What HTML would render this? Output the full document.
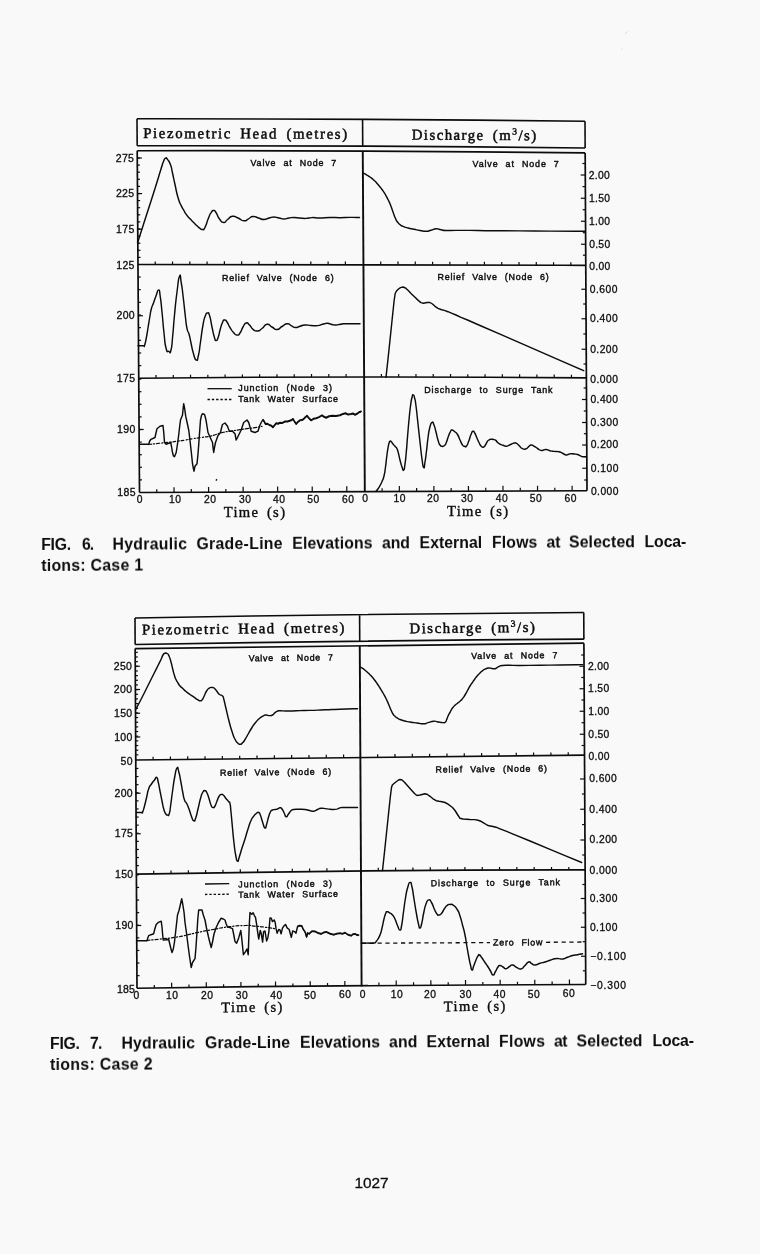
<!DOCTYPE html>
<html lang="en"><head><meta charset="utf-8"><title>Hydraulic Grade-Line Elevations - page 1027</title>
<style>
html,body{margin:0;padding:0;background:#f9f9f9;}
body{width:760px;height:1254px;overflow:hidden;position:relative;}
svg{position:absolute;left:0;top:0;display:block;opacity:0.999;will-change:transform;}
svg path{fill:none;stroke:#0c0c0c;}
svg text{fill:#0c0c0c;white-space:pre;}
.sa{font-family:"Liberation Sans","DejaVu Sans",sans-serif;stroke:#0c0c0c;stroke-width:0.3px;}
.st{font-family:"Liberation Sans","DejaVu Sans",sans-serif;stroke:#0c0c0c;stroke-width:0.42px;word-spacing:3.8px;}
.se{font-family:"Liberation Serif","DejaVu Serif",serif;stroke:#0c0c0c;stroke-width:0.5px;word-spacing:3px;}
.sx{font-family:"Liberation Serif","DejaVu Serif",serif;stroke:#0c0c0c;stroke-width:0.38px;word-spacing:2.5px;}
.cap{font-family:"Liberation Sans","DejaVu Sans",sans-serif;font-weight:bold;}
.pg{font-family:"Liberation Sans","DejaVu Sans",sans-serif;stroke:#0c0c0c;stroke-width:0.3px;}
</style></head><body>
<svg width="760" height="1254" viewBox="0 0 760 1254">
<rect x="0" y="0" width="760" height="1254" fill="#f9f9f9"/>
<defs><filter id="scan" x="0" y="0" width="100%" height="100%" filterUnits="userSpaceOnUse" color-interpolation-filters="sRGB"><feGaussianBlur stdDeviation="0.32"/></filter></defs>
<g filter="url(#scan)">
<g id="fig6">
<path d="M137 118.75Q361 118.6 585 121.25" stroke-width="1.6"/>
<path d="M137.18 145.73Q361.16 145.43 585.14 147.93" stroke-width="1.6"/>
<path d="M137 118.75L137.18 145.73" stroke-width="1.6"/>
<path d="M362.57 120.01L362.73 146.84" stroke-width="1.6"/>
<path d="M585 121.25L585.14 147.93" stroke-width="1.6"/>
<path d="M137.21 150.74Q361.19 150.21 585.17 152.88" stroke-width="1.7"/>
<path d="M137.97 264.51Q361.88 264.03 585.78 265.36" stroke-width="1.7"/>
<path d="M138.74 378.24Q362.56 376.02 586.39 377.79" stroke-width="1.7"/>
<path d="M139.5 492.5Q363.25 490.82 587 490.75" stroke-width="1.7"/>
<path d="M137.21 150.74L139.5 492.5" stroke-width="1.7"/>
<path d="M362.76 151.82L364.82 491.62" stroke-width="1.9"/>
<path d="M585.17 152.88L587 490.75" stroke-width="1.7"/>
<path d="M155.26 264.48L155.24 261.45" stroke-width="1.2"/>
<path d="M156.02 378.08L156 375.05" stroke-width="1.2"/>
<path d="M156.77 492.37L156.75 489.34" stroke-width="1.2"/>
<path d="M172.55 264.45L172.53 261.42" stroke-width="1.2"/>
<path d="M173.29 377.92L173.27 374.9" stroke-width="1.2"/>
<path d="M174.05 492.25L174.01 487.2" stroke-width="1.2"/>
<path d="M189.83 264.43L189.81 261.4" stroke-width="1.2"/>
<path d="M190.57 377.78L190.55 374.76" stroke-width="1.2"/>
<path d="M191.32 492.13L191.3 489.11" stroke-width="1.2"/>
<path d="M207.12 264.41L207.1 261.38" stroke-width="1.2"/>
<path d="M207.85 377.65L207.83 374.63" stroke-width="1.2"/>
<path d="M208.59 492.02L208.56 486.98" stroke-width="1.2"/>
<path d="M224.4 264.39L224.38 261.37" stroke-width="1.2"/>
<path d="M225.13 377.53L225.11 374.51" stroke-width="1.2"/>
<path d="M225.87 491.91L225.85 488.89" stroke-width="1.2"/>
<path d="M241.69 264.39L241.67 261.36" stroke-width="1.2"/>
<path d="M242.41 377.43L242.39 374.41" stroke-width="1.2"/>
<path d="M243.14 491.81L243.11 486.77" stroke-width="1.2"/>
<path d="M258.97 264.39L258.95 261.36" stroke-width="1.2"/>
<path d="M259.69 377.33L259.67 374.31" stroke-width="1.2"/>
<path d="M260.41 491.71L260.4 488.69" stroke-width="1.2"/>
<path d="M276.26 264.39L276.24 261.37" stroke-width="1.2"/>
<path d="M276.97 377.25L276.95 374.23" stroke-width="1.2"/>
<path d="M277.69 491.62L277.66 486.59" stroke-width="1.2"/>
<path d="M293.54 264.4L293.52 261.38" stroke-width="1.2"/>
<path d="M294.25 377.18L294.23 374.16" stroke-width="1.2"/>
<path d="M294.96 491.53L294.94 488.51" stroke-width="1.2"/>
<path d="M310.83 264.41L310.81 261.39" stroke-width="1.2"/>
<path d="M311.53 377.12L311.51 374.11" stroke-width="1.2"/>
<path d="M312.24 491.45L312.2 486.42" stroke-width="1.2"/>
<path d="M328.11 264.43L328.09 261.41" stroke-width="1.2"/>
<path d="M328.81 377.08L328.79 374.06" stroke-width="1.2"/>
<path d="M329.51 491.37L329.49 488.35" stroke-width="1.2"/>
<path d="M345.4 264.46L345.38 261.44" stroke-width="1.2"/>
<path d="M346.09 377.04L346.07 374.03" stroke-width="1.2"/>
<path d="M346.78 491.29L346.75 486.27" stroke-width="1.2"/>
<path d="M380.73 264.52L380.71 261.51" stroke-width="1.2"/>
<path d="M381.41 377.01L381.39 374" stroke-width="1.2"/>
<path d="M382.09 491.15L382.07 488.14" stroke-width="1.2"/>
<path d="M398.02 264.56L398 261.55" stroke-width="1.2"/>
<path d="M398.69 377.01L398.67 374" stroke-width="1.2"/>
<path d="M399.36 491.09L399.33 486.08" stroke-width="1.2"/>
<path d="M415.3 264.61L415.28 261.6" stroke-width="1.2"/>
<path d="M415.97 377.02L415.95 374.01" stroke-width="1.2"/>
<path d="M416.64 491.04L416.62 488.03" stroke-width="1.2"/>
<path d="M432.59 264.66L432.57 261.65" stroke-width="1.2"/>
<path d="M433.25 377.05L433.23 374.04" stroke-width="1.2"/>
<path d="M433.91 490.99L433.88 485.98" stroke-width="1.2"/>
<path d="M449.87 264.72L449.85 261.71" stroke-width="1.2"/>
<path d="M450.53 377.09L450.51 374.08" stroke-width="1.2"/>
<path d="M451.18 490.94L451.17 487.94" stroke-width="1.2"/>
<path d="M467.16 264.78L467.14 261.78" stroke-width="1.2"/>
<path d="M467.81 377.13L467.79 374.13" stroke-width="1.2"/>
<path d="M468.46 490.9L468.43 485.89" stroke-width="1.2"/>
<path d="M484.44 264.85L484.42 261.85" stroke-width="1.2"/>
<path d="M485.08 377.2L485.07 374.19" stroke-width="1.2"/>
<path d="M485.73 490.87L485.71 487.86" stroke-width="1.2"/>
<path d="M501.73 264.92L501.71 261.92" stroke-width="1.2"/>
<path d="M502.36 377.27L502.35 374.27" stroke-width="1.2"/>
<path d="M503 490.83L502.98 485.83" stroke-width="1.2"/>
<path d="M519.01 265L519 262" stroke-width="1.2"/>
<path d="M519.64 377.35L519.63 374.35" stroke-width="1.2"/>
<path d="M520.28 490.81L520.26 487.81" stroke-width="1.2"/>
<path d="M536.3 265.08L536.28 262.09" stroke-width="1.2"/>
<path d="M536.92 377.45L536.91 374.45" stroke-width="1.2"/>
<path d="M537.55 490.79L537.52 485.79" stroke-width="1.2"/>
<path d="M553.58 265.17L553.57 262.18" stroke-width="1.2"/>
<path d="M554.2 377.56L554.19 374.56" stroke-width="1.2"/>
<path d="M554.82 490.77L554.81 487.77" stroke-width="1.2"/>
<path d="M570.87 265.27L570.85 262.27" stroke-width="1.2"/>
<path d="M571.48 377.68L571.47 374.68" stroke-width="1.2"/>
<path d="M572.1 490.76L572.07 485.76" stroke-width="1.2"/>
<path d="M137.26 158L139.86 158" stroke-width="1.2"/>
<path d="M137.31 165.1L139.91 165.1" stroke-width="1.2"/>
<path d="M137.36 172.2L139.96 172.2" stroke-width="1.2"/>
<path d="M137.41 179.3L140.01 179.3" stroke-width="1.2"/>
<path d="M137.45 186.4L140.05 186.4" stroke-width="1.2"/>
<path d="M137.5 193.5L140.1 193.5" stroke-width="1.2"/>
<path d="M137.55 200.6L140.15 200.6" stroke-width="1.2"/>
<path d="M137.59 207.7L140.19 207.7" stroke-width="1.2"/>
<path d="M137.64 214.8L140.24 214.8" stroke-width="1.2"/>
<path d="M137.69 221.9L140.29 221.9" stroke-width="1.2"/>
<path d="M137.74 229L140.34 229" stroke-width="1.2"/>
<path d="M137.78 236.1L140.38 236.1" stroke-width="1.2"/>
<path d="M137.83 243.2L140.43 243.2" stroke-width="1.2"/>
<path d="M137.88 250.3L140.48 250.3" stroke-width="1.2"/>
<path d="M137.93 257.4L140.53 257.4" stroke-width="1.2"/>
<path d="M137.26 158L141.86 158" stroke-width="1.2"/>
<path d="M137.5 193.6L142.1 193.6" stroke-width="1.2"/>
<path d="M137.74 229.2L142.34 229.2" stroke-width="1.2"/>
<path d="M138.65 365.64L141.25 365.64" stroke-width="1.2"/>
<path d="M138.57 352.98L141.17 352.98" stroke-width="1.2"/>
<path d="M138.48 340.32L141.08 340.32" stroke-width="1.2"/>
<path d="M138.4 327.66L141 327.66" stroke-width="1.2"/>
<path d="M138.31 315L140.91 315" stroke-width="1.2"/>
<path d="M138.23 302.34L140.83 302.34" stroke-width="1.2"/>
<path d="M138.14 289.68L140.74 289.68" stroke-width="1.2"/>
<path d="M138.06 277.02L140.66 277.02" stroke-width="1.2"/>
<path d="M138.32 315.75L142.92 315.75" stroke-width="1.2"/>
<path d="M138.74 379.1L141.34 379.1" stroke-width="1.2"/>
<path d="M138.83 391.7L141.43 391.7" stroke-width="1.2"/>
<path d="M138.91 404.3L141.51 404.3" stroke-width="1.2"/>
<path d="M138.99 416.9L141.59 416.9" stroke-width="1.2"/>
<path d="M139.08 429.5L141.68 429.5" stroke-width="1.2"/>
<path d="M139.16 442.1L141.76 442.1" stroke-width="1.2"/>
<path d="M139.25 454.7L141.85 454.7" stroke-width="1.2"/>
<path d="M139.33 467.3L141.93 467.3" stroke-width="1.2"/>
<path d="M139.42 479.9L142.02 479.9" stroke-width="1.2"/>
<path d="M139.08 429.5L143.68 429.5" stroke-width="1.2"/>
<path d="M585.29 175L580.69 175" stroke-width="1.2"/>
<path d="M585.42 198.25L580.82 198.25" stroke-width="1.2"/>
<path d="M585.54 221.25L580.94 221.25" stroke-width="1.2"/>
<path d="M585.67 244.25L581.07 244.25" stroke-width="1.2"/>
<path d="M585.91 289.25L581.31 289.25" stroke-width="1.2"/>
<path d="M586.07 318.75L581.47 318.75" stroke-width="1.2"/>
<path d="M586.23 349.25L581.63 349.25" stroke-width="1.2"/>
<path d="M586.51 399.5L581.91 399.5" stroke-width="1.2"/>
<path d="M586.63 422.5L582.03 422.5" stroke-width="1.2"/>
<path d="M586.75 445L582.15 445" stroke-width="1.2"/>
<path d="M586.88 468.25L582.28 468.25" stroke-width="1.2"/>
<path d="M585.23 163.5L582.43 163.5" stroke-width="1.2"/>
<path d="M585.35 186.6L582.55 186.6" stroke-width="1.2"/>
<path d="M585.48 209.7L582.68 209.7" stroke-width="1.2"/>
<path d="M585.6 232.7L582.8 232.7" stroke-width="1.2"/>
<path d="M585.73 255.2L582.93 255.2" stroke-width="1.2"/>
<path d="M585.99 304L583.19 304" stroke-width="1.2"/>
<path d="M586.15 334L583.35 334" stroke-width="1.2"/>
<path d="M586.31 364L583.51 364" stroke-width="1.2"/>
<path d="M586.44 388L583.64 388" stroke-width="1.2"/>
<path d="M586.57 411L583.77 411" stroke-width="1.2"/>
<path d="M586.69 433.7L583.89 433.7" stroke-width="1.2"/>
<path d="M586.82 456.6L584.02 456.6" stroke-width="1.2"/>
<path d="M586.94 480L584.14 480" stroke-width="1.2"/>
<text class="se" x="143.2" y="138" font-size="14.8" textLength="204" lengthAdjust="spacing" transform="rotate(0.2 143.2 138)">Piezometric Head (metres)</text>
<text class="se" x="411.7" y="139.6" font-size="14.8" textLength="124.5" lengthAdjust="spacing" transform="rotate(0.3 411.7 139.6)">Discharge (m<tspan font-size="9.5" dy="-5.5">3</tspan><tspan dy="5.5">/s)</tspan></text>
<text class="st" x="250.5" y="165.5" font-size="8.9" textLength="85.8" lengthAdjust="spacing">Valve at Node 7</text>
<text class="st" x="472.5" y="167" font-size="8.9" textLength="86.3" lengthAdjust="spacing">Valve at Node 7</text>
<text class="st" x="222" y="280.7" font-size="8.9" textLength="111.7" lengthAdjust="spacing">Relief Valve (Node 6)</text>
<text class="st" x="437.5" y="280" font-size="8.9" textLength="111.3" lengthAdjust="spacing">Relief Valve (Node 6)</text>
<text class="st" x="238.2" y="391.3" font-size="8.9" textLength="93.8" lengthAdjust="spacing">Junction (Node 3)</text>
<text class="st" x="238.2" y="402" font-size="8.9" textLength="99.8" lengthAdjust="spacing">Tank Water Surface</text>
<text class="st" x="424.2" y="392.5" font-size="8.9" textLength="128.3" lengthAdjust="spacing">Discharge to Surge Tank</text>
<path d="M207.5 388.7L231.7 388.7" stroke-width="1.3"/>
<path d="M207.5 399.5L231.7 399.5" stroke-width="1.3" stroke-dasharray="2.4 1.9"/>
<text class="sa" x="133.9" y="161.5" font-size="10.5" textLength="18.2" lengthAdjust="spacing" text-anchor="end">275</text>
<text class="sa" x="134.08" y="197.25" font-size="10.5" textLength="18.2" lengthAdjust="spacing" text-anchor="end">225</text>
<text class="sa" x="134.26" y="232.75" font-size="10.5" textLength="18.2" lengthAdjust="spacing" text-anchor="end">175</text>
<text class="sa" x="134.44" y="268.5" font-size="10.5" textLength="18.2" lengthAdjust="spacing" text-anchor="end">125</text>
<text class="sa" x="134.69" y="319.25" font-size="10.5" textLength="18.2" lengthAdjust="spacing" text-anchor="end">200</text>
<text class="sa" x="135" y="381.75" font-size="10.5" textLength="18.2" lengthAdjust="spacing" text-anchor="end">175</text>
<text class="sa" x="135.26" y="433" font-size="10.5" textLength="18.2" lengthAdjust="spacing" text-anchor="end">190</text>
<text class="sa" x="135.5" y="496" font-size="10.5" textLength="18.2" lengthAdjust="spacing" text-anchor="end">185</text>
<text class="sa" x="588.8" y="179.3" font-size="10.3" textLength="21" lengthAdjust="spacing">2.00</text>
<text class="sa" x="588.92" y="201.8" font-size="10.3" textLength="21" lengthAdjust="spacing">1.50</text>
<text class="sa" x="589.03" y="224.65" font-size="10.3" textLength="21" lengthAdjust="spacing">1.00</text>
<text class="sa" x="589.15" y="247.65" font-size="10.3" textLength="21" lengthAdjust="spacing">0.50</text>
<text class="sa" x="589.26" y="269.65" font-size="10.3" textLength="21" lengthAdjust="spacing">0.00</text>
<text class="sa" x="589.87" y="292.65" font-size="10.3" textLength="27.6" lengthAdjust="spacing">0.600</text>
<text class="sa" x="590.02" y="322.15" font-size="10.3" textLength="27.6" lengthAdjust="spacing">0.400</text>
<text class="sa" x="590.17" y="352.65" font-size="10.3" textLength="27.6" lengthAdjust="spacing">0.200</text>
<text class="sa" x="590.32" y="382.65" font-size="10.3" textLength="27.6" lengthAdjust="spacing">0.000</text>
<text class="sa" x="590.42" y="402.9" font-size="10.3" textLength="27.6" lengthAdjust="spacing">0.400</text>
<text class="sa" x="590.54" y="425.9" font-size="10.3" textLength="27.6" lengthAdjust="spacing">0.300</text>
<text class="sa" x="590.65" y="448.4" font-size="10.3" textLength="27.6" lengthAdjust="spacing">0.200</text>
<text class="sa" x="590.77" y="471.65" font-size="10.3" textLength="27.6" lengthAdjust="spacing">0.100</text>
<text class="sa" x="590.88" y="495.15" font-size="10.3" textLength="27.6" lengthAdjust="spacing">0.000</text>
<text class="sa" x="139.5" y="503" font-size="10.3" textLength="5.8" lengthAdjust="spacing" text-anchor="middle">0</text>
<text class="sa" x="175" y="503" font-size="10.3" textLength="11.8" lengthAdjust="spacing" text-anchor="middle">10</text>
<text class="sa" x="210" y="503" font-size="10.3" textLength="11.8" lengthAdjust="spacing" text-anchor="middle">20</text>
<text class="sa" x="245" y="503" font-size="10.3" textLength="11.8" lengthAdjust="spacing" text-anchor="middle">30</text>
<text class="sa" x="279" y="503" font-size="10.3" textLength="11.8" lengthAdjust="spacing" text-anchor="middle">40</text>
<text class="sa" x="313.25" y="503" font-size="10.3" textLength="11.8" lengthAdjust="spacing" text-anchor="middle">50</text>
<text class="sa" x="348" y="503" font-size="10.3" textLength="11.8" lengthAdjust="spacing" text-anchor="middle">60</text>
<text class="sa" x="365" y="502.4" font-size="10.3" textLength="5.8" lengthAdjust="spacing" text-anchor="middle">0</text>
<text class="sa" x="399.5" y="502.4" font-size="10.3" textLength="11.8" lengthAdjust="spacing" text-anchor="middle">10</text>
<text class="sa" x="433" y="502.4" font-size="10.3" textLength="11.8" lengthAdjust="spacing" text-anchor="middle">20</text>
<text class="sa" x="467" y="502.4" font-size="10.3" textLength="11.8" lengthAdjust="spacing" text-anchor="middle">30</text>
<text class="sa" x="501.75" y="502.4" font-size="10.3" textLength="11.8" lengthAdjust="spacing" text-anchor="middle">40</text>
<text class="sa" x="535.75" y="502.4" font-size="10.3" textLength="11.8" lengthAdjust="spacing" text-anchor="middle">50</text>
<text class="sa" x="570.5" y="502.4" font-size="10.3" textLength="11.8" lengthAdjust="spacing" text-anchor="middle">60</text>
<text class="sx" x="223.7" y="517" font-size="14.6" textLength="61.3" lengthAdjust="spacing">Time (s)</text>
<text class="sx" x="447" y="516.2" font-size="14.6" textLength="61" lengthAdjust="spacing">Time (s)</text>
<path d="M137.5 243C140.33 234.17 140.17 234.67 146 216.5C151.83 198.33 150 204.33 155 188.5C160 172.67 158.23 177.83 161 169C163.77 160.17 161.8 165.57 163.3 162C164.8 158.43 164.07 159.1 165.5 158.3C166.93 157.5 165.9 157.37 167.6 159.6C169.3 161.83 168.97 160.53 170.6 165C172.23 169.47 171.03 166.5 172.5 173C173.97 179.5 173.17 176.33 175 184.5C176.83 192.67 175.93 190.47 178 197.5C180.07 204.53 179.2 201.2 181.2 205.6C183.2 210 182.33 207.77 184 210.7C185.67 213.63 184.2 211.7 186.2 214.4C188.2 217.1 187.5 216.1 190 218.8C192.5 221.5 191.37 220.17 193.7 222.5C196.03 224.83 194.9 223.83 197 225.8C199.1 227.77 198.23 227.17 200 228.4C201.77 229.63 200.63 229.87 202.3 229.5C203.97 229.13 202.93 231.13 205 227.3C207.07 223.47 206.4 223 208.5 218C210.6 213 209.57 214.8 211.3 212.3C213.03 209.8 212.13 210.43 213.7 210.5C215.27 210.57 214.07 209.67 216 212.5C217.93 215.33 216.93 215.67 219.5 219C222.07 222.33 221.03 222.33 223.7 222.5C226.37 222.67 224.57 221.57 227.5 219.5C230.43 217.43 229 216.8 232.5 216.3C236 215.8 234.17 216.5 238 218C241.83 219.5 240.5 220.53 244 220.8C247.5 221.07 245.5 220.23 248.5 218.8C251.5 217.37 249.67 216.77 253 216.5C256.33 216.23 254.83 217 258.5 218C262.17 219 260.5 219.5 264 219.5C267.5 219.5 265.67 218.83 269 218C272.33 217.17 270.67 217 274 217C277.33 217 275.67 217.33 279 218C282.33 218.67 280.67 219 284 219C287.33 219 285.67 218.5 289 218C292.33 217.5 290.33 217.5 294 217.5C297.67 217.5 296 217.7 300 218C304 218.3 302 218.53 306 218.4C310 218.27 307.33 217.73 312 217.6C316.67 217.47 314 218.03 320 218C326 217.97 323.33 217.6 330 217.5C336.67 217.4 333.33 217.73 340 217.7C346.67 217.67 343.5 217.47 350 217.4C356.5 217.33 356.33 217.47 359.5 217.5" stroke-width="1.45" stroke-linejoin="round" stroke-linecap="round"/>
<path d="M363 173C364.17 173.6 364.17 173.47 366.5 174.8C368.83 176.13 367.5 175.17 370 177C372.5 178.83 371.33 177.8 374 180.3C376.67 182.8 375.33 181.43 378 184.5C380.67 187.57 379.67 186.33 382 189.5C384.33 192.67 383 190.67 385 194C387 197.33 386.17 195.83 388 199.5C389.83 203.17 388.83 200.83 390.5 205C392.17 209.17 391.33 207.5 393 212C394.67 216.5 394 215.17 395.5 218.5C397 221.83 396 219.97 397.5 222C399 224.03 398.17 223.17 400 224.6C401.83 226.03 400.33 225.17 403 226.3C405.67 227.43 404.33 227 408 228C411.67 229 410 228.47 414 229.3C418 230.13 416 229.83 420 230.5C424 231.17 422.33 231.37 426 231.3C429.67 231.23 427.6 231.13 431 230.3C434.4 229.47 432.87 228.97 436.2 228.8C439.53 228.63 437.73 229.23 441 229.8C444.27 230.37 441 230.3 446 230.5C451 230.7 448 230.43 456 230.4C464 230.37 458.67 230.3 470 230.4C481.33 230.5 473.33 230.53 490 230.7C506.67 230.87 500 230.77 520 230.9C540 231.03 528.33 230.97 550 231.1C571.67 231.23 573.33 231.23 585 231.3" stroke-width="1.45" stroke-linejoin="round" stroke-linecap="round"/>
<path d="M138 345.7C139 345.7 139.07 345.7 141 345.7C142.93 345.7 142.6 345.87 143.8 345.7C145 345.53 143.77 347.77 144.6 345.2C145.43 342.63 145.17 343.73 146.3 338C147.43 332.27 146.83 335 148 328C149.17 321 148.7 323.33 149.8 317C150.9 310.67 150.07 313.67 151.3 309C152.53 304.33 151.93 307.33 153.5 303C155.07 298.67 154.27 300.33 156 296C157.73 291.67 157.27 289.67 158.7 290C160.13 290.33 159.2 289.67 160.3 297C161.4 304.33 160.77 300 162 312C163.23 324 162.67 321 164 333C165.33 345 164.43 341.9 166 348C167.57 354.1 167.03 350.63 168.7 351.3C170.37 351.97 169.67 355.1 171 350C172.33 344.9 171.53 347.67 172.7 336C173.87 324.33 173.07 329.67 174.5 315C175.93 300.33 175.33 304.9 177 292C178.67 279.1 178.07 279.3 179.5 276.3C180.93 273.3 180.03 275.77 181.3 283C182.57 290.23 181.97 287 183.3 298C184.63 309 184.07 305.83 185.3 316C186.53 326.17 185.77 322.5 187 328.5C188.23 334.5 187.67 329.17 189 334C190.33 338.83 189.57 336.67 191 343C192.43 349.33 191.57 347.33 193.3 353C195.03 358.67 194.47 359.33 196.2 360C197.93 360.67 197.07 361 198.5 355C199.93 349 199 352 200.5 342C202 332 201.4 333.67 203 325C204.6 316.33 203.8 320 205.3 316C206.8 312 206.03 313 207.5 313C208.97 313 208.2 311.33 209.7 316C211.2 320.67 210.47 320 212 327C213.53 334 212.9 332.5 214.3 337C215.7 341.5 214.87 340.5 216.2 340.5C217.53 340.5 216.93 340.83 218.3 337C219.67 333.17 218.9 333.83 220.3 329C221.7 324.17 221.1 325.5 222.5 322.5C223.9 319.5 223 320.17 224.5 320C226 319.83 225.17 319.5 227 322C228.83 324.5 227.83 324 230 327.5C232.17 331 231.17 330 233.5 332.5C235.83 335 234.83 334.83 237 335C239.17 335.17 238 335.67 240 333C242 330.33 240.93 330.33 243 327C245.07 323.67 244.03 323.67 246.2 323C248.37 322.33 247.23 322.9 249.5 325C251.77 327.1 250.33 327.3 253 329.3C255.67 331.3 254.5 331.27 257.5 331C260.5 330.73 258.83 330.73 262 328.5C265.17 326.27 263.67 324.8 267 324.3C270.33 323.8 268.67 325.27 272 327C275.33 328.73 273.67 329.67 277 329.5C280.33 329.33 278.57 328.4 282 326.5C285.43 324.6 284.13 324.03 287.3 323.8C290.47 323.57 288.77 324.57 291.5 325.8C294.23 327.03 292.67 327.37 295.5 327.5C298.33 327.63 296.83 327.03 300 326.2C303.17 325.37 301.33 325.23 305 325C308.67 324.77 306.83 325.3 311 325.5C315.17 325.7 313.67 326 317.5 325.6C321.33 325.2 319.17 325.07 322.5 324.3C325.83 323.53 324.33 323.23 327.5 323.3C330.67 323.37 329.17 323.93 332 324.5C334.83 325.07 333.17 325.1 336 325C338.83 324.9 337.5 324.6 340.5 324.2C343.5 323.8 341.17 323.93 345 323.8C348.83 323.67 347 323.83 352 323.8C357 323.77 357.33 323.73 360 323.7" stroke-width="1.45" stroke-linejoin="round" stroke-linecap="round"/>
<path d="M386 377.3L388 359L390 340L392.5 316L394.2 300L395.2 293.5L396.5 291L398.5 289L400.5 287.6L403 287L405.5 288L408 290.3L411.5 294L415 297.3L418.5 300.6L421 302.6L423.5 303.2L427 302.5L430 302.5L432.5 304L435 306.3L438 308.3L441 309.5L445 310.6L448 311.7L452 313.4L456 315L461 317.4L467.5 320L480 325.5L500 334.2L520 342.9L540 351.7L560 360.4L583.7 370.7" stroke-width="1.45" stroke-linejoin="round" stroke-linecap="round"/>
<path d="M139.5 444.2L148.7 444.2L149.7 441L151 439.3L155 437.5L156 433L157 428.7L160 426.3L163 425.5L163.8 433L164.5 442.5L166.2 444.2L170.7 442.5L171.6 447L172.5 452.5L173.5 456L174.5 456.7L176.2 452.5L177.5 444L178.7 435L179.6 427L180.5 420L182.5 415L183.1 409L183.7 403.7L184.7 409L185.7 416.2L187.2 423L188.7 430L189.6 437L190.5 445L191.5 454L192.5 463.7L193.3 468L194 471.2L195 466.2L197 463.7L197.9 455L198.7 445L199.6 432L200.5 420L201.5 415.5L202.5 413.7L204.5 414.5L205.4 417.5L206.2 421.2L207.1 427L208 432.5L210 437L212.5 442.5L213.1 448L213.7 452.5L214.6 447L215.5 442.5L218 435.5L220.5 432.5L221.5 428L222.5 424.5L225 423L227.5 426.2L228.5 429L229.5 431.2L232.5 431.2L235 433.7L235.6 437L236.2 440L237.5 437.5L238.7 435L241.2 430L242.5 426L243.7 422.5L247 420L248.7 422.5L250 427L251.2 431.2L255 432.5L258 431.2L259 428L260 425L261.5 422L263 419.5L264.3 421.5L265.5 423.7L267.5 423.5L270 425L271.5 425.5L273 427L274.6 425L276.2 423L278 423.5L280 422.5L282.5 422.6L285 421.2L287.5 421.3L291.2 420L293 418.7L294.6 421.5L296.2 423.7L298 421.5L300 420L302 419.8L303.7 418.7L305.5 416.8L307 415.5L309 418L311.2 420L313.5 418.5L316.2 418L319 416.8L322 415L324 416.5L326.2 417.5L329 416L332.5 415.5L336 415.6L340 415L343 413.6L345.5 413L348 414.2L351.2 413.7L353 413.2L355 414.5L357 413.5L359 412L361.2 411.2" stroke-width="1.45" stroke-linejoin="round" stroke-linecap="round"/>
<path d="M376.2 491C376.87 490.17 376.93 490.33 378.2 488.5C379.47 486.67 378.73 487.83 380 485.5C381.27 483.17 380.67 484.67 382 481.5C383.33 478.33 382.83 480.83 384 476C385.17 471.17 384.6 473.33 385.5 467C386.4 460.67 385.87 463.33 386.7 457C387.53 450.67 387.23 452.57 388 448C388.77 443.43 388.33 445.57 389 443.3C389.67 441.03 389.17 441.63 390 441.2C390.83 440.77 390.5 441.07 391.5 442C392.5 442.93 391.83 442.57 393 444C394.17 445.43 393.67 444.73 395 446.3C396.33 447.87 395.8 446.13 397 448.7C398.2 451.27 397.6 450.23 398.6 454C399.6 457.77 398.87 455.67 400 460C401.13 464.33 400.77 463.67 402 467C403.23 470.33 402.7 471 403.7 470C404.7 469 404.13 470 405 464C405.87 458 405.43 461.33 406.3 452C407.17 442.67 406.7 446.67 407.6 436C408.5 425.33 408.03 430 409 420C409.97 410 409.5 413.5 410.5 406C411.5 398.5 411.1 401.17 412 397.5C412.9 393.83 412.33 394.83 413.2 395C414.07 395.17 413.67 394.33 414.6 398C415.53 401.67 414.93 398 416 406C417.07 414 416.47 410 417.8 422C419.13 434 418.6 429.67 420 442C421.4 454.33 420.77 450.5 422 459C423.23 467.5 422.7 466.5 423.7 467.5C424.7 468.5 424.07 467.5 425 462C425.93 456.5 425.5 459 426.5 451C427.5 443 426.93 445.67 428 438C429.07 430.33 428.37 433.17 429.7 428C431.03 422.83 430.57 423.5 432 422.5C433.43 421.5 432.67 421.83 434 425C435.33 428.17 434.67 427 436 432C437.33 437 436.67 435.67 438 440C439.33 444.33 438.67 442.9 440 445C441.33 447.1 440.5 446.13 442 446.3C443.5 446.47 443 446.93 444.5 445.5C446 444.07 445.17 445.17 446.5 442C447.83 438.83 447.17 439.5 448.5 436C449.83 432.5 449.33 433.5 450.5 431.5C451.67 429.5 450.67 430 452 430C453.33 430 452.67 430 454.5 431.5C456.33 433 455.67 431.67 457.5 434.5C459.33 437.33 458.33 436.5 460 440C461.67 443.5 461 442.9 462.5 445C464 447.1 463.17 445.97 464.5 446.3C465.83 446.63 465.1 447.7 466.5 446C467.9 444.3 467.2 445.03 468.7 441.2C470.2 437.37 469.57 437.83 471 434.5C472.43 431.17 471.67 431.53 473 431.2C474.33 430.87 473.83 431.57 475 433.5C476.17 435.43 475.17 434 476.5 437C477.83 440 477.43 439.43 479 442.5C480.57 445.57 479.63 444.7 481.2 446.2C482.77 447.7 482.2 447.57 483.7 447C485.2 446.43 484.43 446.43 485.7 444.5C486.97 442.57 486.3 442.77 487.5 441.2C488.7 439.63 488.07 440.47 489.3 439.8C490.53 439.13 489.8 439.3 491.2 439.2C492.6 439.1 492.07 439.17 493.5 439.5C494.93 439.83 494.1 439.2 495.5 440.2C496.9 441.2 496.2 441.17 497.7 442.5C499.2 443.83 498.23 443.27 500 444.2C501.77 445.13 500.93 444.63 503 445.3C505.07 445.97 504.03 446.3 506.2 446.2C508.37 446.1 507.4 445.83 509.5 445C511.6 444.17 510.83 444.37 512.5 443.7C514.17 443.03 513.17 443.13 514.5 443C515.83 442.87 515 442.47 516.5 443.3C518 444.13 517 443.7 519 445.5C521 447.3 520.1 447.63 522.5 448.7C524.9 449.77 524.13 449.4 526.2 448.7C528.27 448 527.03 447.83 528.7 446.6C530.37 445.37 529.53 445.2 531.2 445C532.87 444.8 532.03 445.17 533.7 446C535.37 446.83 534.53 446.4 536.2 447.5C537.87 448.6 537.03 448.3 538.7 449.3C540.37 450.3 539.53 450.27 541.2 450.5C542.87 450.73 542.03 450.33 543.7 450C545.37 449.67 544.33 449.33 546.2 449.5C548.07 449.67 547.2 449.93 549.3 450.5C551.4 451.07 550.27 450.87 552.5 451.2C554.73 451.53 553.5 451.23 556 451.5C558.5 451.77 557.67 451.33 560 452C562.33 452.67 560.93 452.5 563 453.5C565.07 454.5 564.3 454.73 566.2 455C568.1 455.27 567.03 454.73 568.7 454.3C570.37 453.87 569.33 453.8 571.2 453.7C573.07 453.6 572.2 453.73 574.3 454C576.4 454.27 575.6 453.97 577.5 454.5C579.4 455.03 578.33 454.87 580 455.6C581.67 456.33 580.5 456.33 582.5 456.7C584.5 457.07 584.83 456.7 586 456.7" stroke-width="1.45" stroke-linejoin="round" stroke-linecap="round"/>
<path d="M148.5 444.5C152.33 444.07 152.83 443.97 160 443.2C167.17 442.43 164.17 442.87 170 442.2C175.83 441.53 172.5 441.9 177.5 441.2C182.5 440.5 180 440.93 185 440.1C190 439.27 187.17 439.57 192.5 438.7C197.83 437.83 195.17 438.33 201 437.5C206.83 436.67 205 437.2 210 436.2C215 435.2 211.83 435.73 216 434.5C220.17 433.27 217.5 433.67 222.5 432.5C227.5 431.33 225.17 431.93 231 431C236.83 430.07 234.67 430.47 240 429.7C245.33 428.93 242 429.4 247 428.7C252 428 250 428.4 255 427.6C260 426.8 259.67 426.73 262 426.3" stroke-width="1.25" stroke-dasharray="3 2 1.2 2" stroke-linejoin="round" stroke-linecap="round"/>
<path d="M263 420.25L264.3 422.25L265.5 424.45L267.5 424.25L270 425.75L271.5 426.25L273 427.75L274.6 425.75L276.2 423.75L278 424.25L280 423.25L282.5 423.35L285 421.95L287.5 422.05L291.2 420.75L293 419.45L294.6 422.25L296.2 424.45L298 422.25L300 420.75L302 420.55L303.7 419.45L305.5 417.55L307 416.25L309 418.75L311.2 420.75L313.5 419.25L316.2 418.75L319 417.55L322 415.75L324 417.25L326.2 418.25L329 416.75L332.5 416.25L336 416.35L340 415.75L343 414.35L345.5 413.75L348 414.95L351.2 414.45L353 413.95L355 415.25L357 414.25L359 412.75L361.2 411.95" stroke-width="1.1" stroke-linejoin="round"/>
<path d="M215.9 480.6L216.9 479.3" stroke-width="1.4"/>
</g>
<g id="fig7">
<path d="M135 618Q359.38 614.05 583.75 612.5" stroke-width="1.6"/>
<path d="M135.14 644.51Q359.52 640.62 583.89 639.14" stroke-width="1.6"/>
<path d="M135 618L135.14 644.51" stroke-width="1.6"/>
<path d="M359.6 615.25L359.74 641.82" stroke-width="1.6"/>
<path d="M583.75 612.5L583.89 639.14" stroke-width="1.6"/>
<path d="M135.16 648.55Q359.54 645.27 583.91 643.19" stroke-width="1.7"/>
<path d="M135.77 759.99Q360.14 757.18 584.52 755.16" stroke-width="1.7"/>
<path d="M136.38 874.21Q360.76 869.67 585.13 869.92" stroke-width="1.7"/>
<path d="M137 988.25Q361.38 985.17 585.75 984.5" stroke-width="1.7"/>
<path d="M135.16 648.55L137 988.25" stroke-width="1.7"/>
<path d="M359.76 645.87L361.6 986.37" stroke-width="1.9"/>
<path d="M583.91 643.19L585.75 984.5" stroke-width="1.7"/>
<path d="M153.09 759.77L153.07 756.77" stroke-width="1.2"/>
<path d="M153.71 873.87L153.69 870.87" stroke-width="1.2"/>
<path d="M154.32 988.02L154.31 985.01" stroke-width="1.2"/>
<path d="M170.41 759.56L170.39 756.56" stroke-width="1.2"/>
<path d="M171.03 873.54L171.01 870.54" stroke-width="1.2"/>
<path d="M171.64 987.79L171.62 982.78" stroke-width="1.2"/>
<path d="M187.73 759.35L187.72 756.35" stroke-width="1.2"/>
<path d="M188.35 873.22L188.33 870.22" stroke-width="1.2"/>
<path d="M188.97 987.57L188.95 984.57" stroke-width="1.2"/>
<path d="M205.05 759.14L205.04 756.14" stroke-width="1.2"/>
<path d="M205.67 872.92L205.65 869.92" stroke-width="1.2"/>
<path d="M206.29 987.36L206.26 982.35" stroke-width="1.2"/>
<path d="M222.38 758.93L222.36 755.93" stroke-width="1.2"/>
<path d="M222.99 872.64L222.98 869.63" stroke-width="1.2"/>
<path d="M223.61 987.15L223.59 984.15" stroke-width="1.2"/>
<path d="M239.7 758.73L239.68 755.72" stroke-width="1.2"/>
<path d="M240.31 872.37L240.3 869.36" stroke-width="1.2"/>
<path d="M240.93 986.95L240.9 981.95" stroke-width="1.2"/>
<path d="M257.02 758.53L257 755.52" stroke-width="1.2"/>
<path d="M257.64 872.11L257.62 869.1" stroke-width="1.2"/>
<path d="M258.25 986.76L258.24 983.76" stroke-width="1.2"/>
<path d="M274.34 758.33L274.32 755.32" stroke-width="1.2"/>
<path d="M274.96 871.86L274.94 868.86" stroke-width="1.2"/>
<path d="M275.57 986.58L275.55 981.57" stroke-width="1.2"/>
<path d="M291.66 758.13L291.65 755.12" stroke-width="1.2"/>
<path d="M292.28 871.63L292.26 868.63" stroke-width="1.2"/>
<path d="M292.9 986.4L292.88 983.4" stroke-width="1.2"/>
<path d="M308.98 757.94L308.97 754.93" stroke-width="1.2"/>
<path d="M309.6 871.42L309.59 868.41" stroke-width="1.2"/>
<path d="M310.22 986.23L310.19 981.22" stroke-width="1.2"/>
<path d="M326.31 757.75L326.29 754.74" stroke-width="1.2"/>
<path d="M326.92 871.22L326.91 868.21" stroke-width="1.2"/>
<path d="M327.54 986.07L327.52 983.06" stroke-width="1.2"/>
<path d="M343.63 757.56L343.61 754.55" stroke-width="1.2"/>
<path d="M344.25 871.03L344.23 868.02" stroke-width="1.2"/>
<path d="M344.86 985.92L344.83 980.9" stroke-width="1.2"/>
<path d="M377.69 757.19L377.67 754.18" stroke-width="1.2"/>
<path d="M378.31 870.71L378.29 867.7" stroke-width="1.2"/>
<path d="M378.92 985.63L378.9 982.62" stroke-width="1.2"/>
<path d="M395.01 757.01L394.99 754" stroke-width="1.2"/>
<path d="M395.63 870.56L395.61 867.55" stroke-width="1.2"/>
<path d="M396.24 985.5L396.22 980.48" stroke-width="1.2"/>
<path d="M412.33 756.83L412.32 753.81" stroke-width="1.2"/>
<path d="M412.95 870.43L412.93 867.42" stroke-width="1.2"/>
<path d="M413.56 985.37L413.55 982.36" stroke-width="1.2"/>
<path d="M429.65 756.65L429.64 753.64" stroke-width="1.2"/>
<path d="M430.27 870.32L430.25 867.31" stroke-width="1.2"/>
<path d="M430.89 985.25L430.86 980.23" stroke-width="1.2"/>
<path d="M446.98 756.47L446.96 753.46" stroke-width="1.2"/>
<path d="M447.59 870.22L447.58 867.21" stroke-width="1.2"/>
<path d="M448.21 985.14L448.19 982.13" stroke-width="1.2"/>
<path d="M464.3 756.3L464.28 753.29" stroke-width="1.2"/>
<path d="M464.91 870.13L464.9 867.12" stroke-width="1.2"/>
<path d="M465.53 985.03L465.5 980.01" stroke-width="1.2"/>
<path d="M481.62 756.13L481.6 753.11" stroke-width="1.2"/>
<path d="M482.24 870.06L482.22 867.05" stroke-width="1.2"/>
<path d="M482.85 984.94L482.84 981.92" stroke-width="1.2"/>
<path d="M498.94 755.96L498.92 752.95" stroke-width="1.2"/>
<path d="M499.56 870L499.54 866.99" stroke-width="1.2"/>
<path d="M500.17 984.84L500.15 979.82" stroke-width="1.2"/>
<path d="M516.26 755.79L516.25 752.78" stroke-width="1.2"/>
<path d="M516.88 869.96L516.86 866.94" stroke-width="1.2"/>
<path d="M517.5 984.76L517.48 981.75" stroke-width="1.2"/>
<path d="M533.58 755.63L533.57 752.61" stroke-width="1.2"/>
<path d="M534.2 869.93L534.18 866.91" stroke-width="1.2"/>
<path d="M534.82 984.68L534.79 979.66" stroke-width="1.2"/>
<path d="M550.91 755.47L550.89 752.45" stroke-width="1.2"/>
<path d="M551.52 869.91L551.51 866.9" stroke-width="1.2"/>
<path d="M552.14 984.61L552.12 981.6" stroke-width="1.2"/>
<path d="M568.23 755.31L568.21 752.29" stroke-width="1.2"/>
<path d="M568.84 869.91L568.83 866.9" stroke-width="1.2"/>
<path d="M569.46 984.55L569.43 979.53" stroke-width="1.2"/>
<path d="M135.19 652.32L137.79 652.32" stroke-width="1.2"/>
<path d="M135.21 656.98L137.81 656.98" stroke-width="1.2"/>
<path d="M135.24 661.64L137.84 661.64" stroke-width="1.2"/>
<path d="M135.26 666.3L137.86 666.3" stroke-width="1.2"/>
<path d="M135.29 670.96L137.89 670.96" stroke-width="1.2"/>
<path d="M135.31 675.62L137.91 675.62" stroke-width="1.2"/>
<path d="M135.34 680.28L137.94 680.28" stroke-width="1.2"/>
<path d="M135.36 684.94L137.96 684.94" stroke-width="1.2"/>
<path d="M135.39 689.6L137.99 689.6" stroke-width="1.2"/>
<path d="M135.41 694.26L138.01 694.26" stroke-width="1.2"/>
<path d="M135.44 698.92L138.04 698.92" stroke-width="1.2"/>
<path d="M135.46 703.58L138.06 703.58" stroke-width="1.2"/>
<path d="M135.49 708.24L138.09 708.24" stroke-width="1.2"/>
<path d="M135.51 712.9L138.11 712.9" stroke-width="1.2"/>
<path d="M135.54 717.56L138.14 717.56" stroke-width="1.2"/>
<path d="M135.56 722.22L138.16 722.22" stroke-width="1.2"/>
<path d="M135.59 726.88L138.19 726.88" stroke-width="1.2"/>
<path d="M135.61 731.54L138.21 731.54" stroke-width="1.2"/>
<path d="M135.64 736.2L138.24 736.2" stroke-width="1.2"/>
<path d="M135.66 740.86L138.26 740.86" stroke-width="1.2"/>
<path d="M135.69 745.52L138.29 745.52" stroke-width="1.2"/>
<path d="M135.71 750.18L138.31 750.18" stroke-width="1.2"/>
<path d="M135.74 754.84L138.34 754.84" stroke-width="1.2"/>
<path d="M135.26 666.25L139.86 666.25" stroke-width="1.2"/>
<path d="M135.39 689.5L139.99 689.5" stroke-width="1.2"/>
<path d="M135.51 713.25L140.11 713.25" stroke-width="1.2"/>
<path d="M135.64 737L140.24 737" stroke-width="1.2"/>
<path d="M136.34 865.65L138.94 865.65" stroke-width="1.2"/>
<path d="M136.29 857.55L138.89 857.55" stroke-width="1.2"/>
<path d="M136.25 849.45L138.85 849.45" stroke-width="1.2"/>
<path d="M136.21 841.35L138.81 841.35" stroke-width="1.2"/>
<path d="M136.16 833.25L138.76 833.25" stroke-width="1.2"/>
<path d="M136.12 825.15L138.72 825.15" stroke-width="1.2"/>
<path d="M136.08 817.05L138.68 817.05" stroke-width="1.2"/>
<path d="M136.03 808.95L138.63 808.95" stroke-width="1.2"/>
<path d="M135.99 800.85L138.59 800.85" stroke-width="1.2"/>
<path d="M135.94 792.75L138.54 792.75" stroke-width="1.2"/>
<path d="M135.9 784.65L138.5 784.65" stroke-width="1.2"/>
<path d="M135.86 776.55L138.46 776.55" stroke-width="1.2"/>
<path d="M135.81 768.45L138.41 768.45" stroke-width="1.2"/>
<path d="M135.95 793.25L140.55 793.25" stroke-width="1.2"/>
<path d="M136.17 833.75L140.77 833.75" stroke-width="1.2"/>
<path d="M136.39 874.85L138.99 874.85" stroke-width="1.2"/>
<path d="M136.46 887.45L139.06 887.45" stroke-width="1.2"/>
<path d="M136.52 900.05L139.12 900.05" stroke-width="1.2"/>
<path d="M136.59 912.65L139.19 912.65" stroke-width="1.2"/>
<path d="M136.66 925.25L139.26 925.25" stroke-width="1.2"/>
<path d="M136.73 937.85L139.33 937.85" stroke-width="1.2"/>
<path d="M136.8 950.45L139.4 950.45" stroke-width="1.2"/>
<path d="M136.86 963.05L139.46 963.05" stroke-width="1.2"/>
<path d="M136.93 975.65L139.53 975.65" stroke-width="1.2"/>
<path d="M136.66 925.5L141.26 925.5" stroke-width="1.2"/>
<path d="M584.04 666.25L579.44 666.25" stroke-width="1.2"/>
<path d="M584.16 688.75L579.56 688.75" stroke-width="1.2"/>
<path d="M584.28 711.25L579.68 711.25" stroke-width="1.2"/>
<path d="M584.4 734.25L579.8 734.25" stroke-width="1.2"/>
<path d="M584.65 779L580.05 779" stroke-width="1.2"/>
<path d="M584.81 809.25L580.21 809.25" stroke-width="1.2"/>
<path d="M584.97 840L580.37 840" stroke-width="1.2"/>
<path d="M585.29 898.5L580.69 898.5" stroke-width="1.2"/>
<path d="M585.44 927.25L580.84 927.25" stroke-width="1.2"/>
<path d="M585.6 956.25L581 956.25" stroke-width="1.2"/>
<path d="M583.98 655L581.18 655" stroke-width="1.2"/>
<path d="M584.1 677.5L581.3 677.5" stroke-width="1.2"/>
<path d="M584.22 700L581.42 700" stroke-width="1.2"/>
<path d="M584.34 722.7L581.54 722.7" stroke-width="1.2"/>
<path d="M584.47 745.5L581.67 745.5" stroke-width="1.2"/>
<path d="M584.73 794L581.93 794" stroke-width="1.2"/>
<path d="M584.89 824.6L582.09 824.6" stroke-width="1.2"/>
<path d="M585.05 855L582.25 855" stroke-width="1.2"/>
<path d="M585.21 884.5L582.41 884.5" stroke-width="1.2"/>
<path d="M585.37 913L582.57 913" stroke-width="1.2"/>
<path d="M585.52 941.7L582.72 941.7" stroke-width="1.2"/>
<path d="M585.68 970.8L582.88 970.8" stroke-width="1.2"/>
<text class="se" x="142" y="634.6" font-size="14.8" textLength="202.5" lengthAdjust="spacing" transform="rotate(-0.6 142 634.6)">Piezometric Head (metres)</text>
<text class="se" x="409.5" y="633.3" font-size="14.8" textLength="125.5" lengthAdjust="spacing" transform="rotate(-0.6 409.5 633.3)">Discharge (m<tspan font-size="9.5" dy="-5.5">3</tspan><tspan dy="5.5">/s)</tspan></text>
<text class="st" x="248.7" y="661.3" font-size="8.9" textLength="84.3" lengthAdjust="spacing" transform="rotate(-0.6 248.7 661.3)">Valve at Node 7</text>
<text class="st" x="471.2" y="659" font-size="8.9" textLength="86.3" lengthAdjust="spacing" transform="rotate(-0.6 471.2 659)">Valve at Node 7</text>
<text class="st" x="220" y="775.8" font-size="8.9" textLength="111.3" lengthAdjust="spacing" transform="rotate(-0.6 220 775.8)">Relief Valve (Node 6)</text>
<text class="st" x="435.5" y="772.6" font-size="8.9" textLength="111.5" lengthAdjust="spacing" transform="rotate(-0.6 435.5 772.6)">Relief Valve (Node 6)</text>
<text class="st" x="238.2" y="887.4" font-size="8.9" textLength="93.8" lengthAdjust="spacing" transform="rotate(-0.5 238.2 887.4)">Junction (Node 3)</text>
<text class="st" x="238.2" y="897.7" font-size="8.9" textLength="99.8" lengthAdjust="spacing" transform="rotate(-0.5 238.2 897.7)">Tank Water Surface</text>
<text class="st" x="430.7" y="886.3" font-size="8.9" textLength="129.3" lengthAdjust="spacing" transform="rotate(-0.5 430.7 886.3)">Discharge to Surge Tank</text>
<text class="st" x="493" y="945.6" font-size="8.9" textLength="49.5" lengthAdjust="spacing" transform="rotate(-0.3 493 945.6)">Zero Flow</text>
<path d="M205 884L229.2 883.7" stroke-width="1.3"/>
<path d="M205 894.5L229.2 894.2" stroke-width="1.3" stroke-dasharray="2.4 1.9"/>
<text class="sa" x="131.9" y="669.75" font-size="10.5" textLength="18.2" lengthAdjust="spacing" text-anchor="end">250</text>
<text class="sa" x="132.04" y="693" font-size="10.5" textLength="18.2" lengthAdjust="spacing" text-anchor="end">200</text>
<text class="sa" x="132.18" y="716.75" font-size="10.5" textLength="18.2" lengthAdjust="spacing" text-anchor="end">150</text>
<text class="sa" x="132.33" y="740.5" font-size="10.5" textLength="18.2" lengthAdjust="spacing" text-anchor="end">100</text>
<text class="sa" x="132.47" y="764.75" font-size="10.5" textLength="12" lengthAdjust="spacing" text-anchor="end">50</text>
<text class="sa" x="132.66" y="796.75" font-size="10.5" textLength="18.2" lengthAdjust="spacing" text-anchor="end">200</text>
<text class="sa" x="132.91" y="837.25" font-size="10.5" textLength="18.2" lengthAdjust="spacing" text-anchor="end">175</text>
<text class="sa" x="133.15" y="878.2" font-size="10.5" textLength="18.2" lengthAdjust="spacing" text-anchor="end">150</text>
<text class="sa" x="133.46" y="929" font-size="10.5" textLength="18.2" lengthAdjust="spacing" text-anchor="end">190</text>
<text class="sa" x="134.9" y="992.9" font-size="10.5" textLength="18" lengthAdjust="spacing" text-anchor="end">185</text>
<text class="sa" x="588" y="669.65" font-size="10.3" textLength="21" lengthAdjust="spacing">2.00</text>
<text class="sa" x="588.11" y="692.15" font-size="10.3" textLength="21" lengthAdjust="spacing">1.50</text>
<text class="sa" x="588.23" y="714.65" font-size="10.3" textLength="21" lengthAdjust="spacing">1.00</text>
<text class="sa" x="588.34" y="737.65" font-size="10.3" textLength="21" lengthAdjust="spacing">0.50</text>
<text class="sa" x="588.45" y="760.15" font-size="10.3" textLength="21" lengthAdjust="spacing">0.00</text>
<text class="sa" x="589.17" y="782.4" font-size="10.3" textLength="27.6" lengthAdjust="spacing">0.600</text>
<text class="sa" x="589.32" y="812.65" font-size="10.3" textLength="27.6" lengthAdjust="spacing">0.400</text>
<text class="sa" x="589.47" y="843.4" font-size="10.3" textLength="27.6" lengthAdjust="spacing">0.200</text>
<text class="sa" x="589.62" y="873.9" font-size="10.3" textLength="27.6" lengthAdjust="spacing">0.000</text>
<text class="sa" x="589.76" y="901.9" font-size="10.3" textLength="27.6" lengthAdjust="spacing">0.300</text>
<text class="sa" x="589.91" y="930.65" font-size="10.3" textLength="27.6" lengthAdjust="spacing">0.100</text>
<text class="sa" x="590.2" y="959.65" font-size="10.3" textLength="35.8" lengthAdjust="spacing">−0.100</text>
<text class="sa" x="590.2" y="988.9" font-size="10.3" textLength="35.8" lengthAdjust="spacing">−0.300</text>
<text class="sa" x="136.25" y="999.2" font-size="10.3" textLength="5.8" lengthAdjust="spacing" text-anchor="middle">0</text>
<text class="sa" x="172" y="999.06" font-size="10.3" textLength="11.8" lengthAdjust="spacing" text-anchor="middle">10</text>
<text class="sa" x="207" y="998.92" font-size="10.3" textLength="11.8" lengthAdjust="spacing" text-anchor="middle">20</text>
<text class="sa" x="241.75" y="998.78" font-size="10.3" textLength="11.8" lengthAdjust="spacing" text-anchor="middle">30</text>
<text class="sa" x="276.25" y="998.64" font-size="10.3" textLength="11.8" lengthAdjust="spacing" text-anchor="middle">40</text>
<text class="sa" x="310" y="998.5" font-size="10.3" textLength="11.8" lengthAdjust="spacing" text-anchor="middle">50</text>
<text class="sa" x="345" y="998.36" font-size="10.3" textLength="11.8" lengthAdjust="spacing" text-anchor="middle">60</text>
<text class="sa" x="362.5" y="998.3" font-size="10.3" textLength="5.8" lengthAdjust="spacing" text-anchor="middle">0</text>
<text class="sa" x="396.75" y="998.16" font-size="10.3" textLength="11.8" lengthAdjust="spacing" text-anchor="middle">10</text>
<text class="sa" x="430" y="998.03" font-size="10.3" textLength="11.8" lengthAdjust="spacing" text-anchor="middle">20</text>
<text class="sa" x="465.5" y="997.89" font-size="10.3" textLength="11.8" lengthAdjust="spacing" text-anchor="middle">30</text>
<text class="sa" x="499.5" y="997.75" font-size="10.3" textLength="11.8" lengthAdjust="spacing" text-anchor="middle">40</text>
<text class="sa" x="533.75" y="997.61" font-size="10.3" textLength="11.8" lengthAdjust="spacing" text-anchor="middle">50</text>
<text class="sa" x="568.75" y="997.47" font-size="10.3" textLength="11.8" lengthAdjust="spacing" text-anchor="middle">60</text>
<text class="sx" x="221.2" y="1012.2" font-size="14.6" textLength="61.3" lengthAdjust="spacing" transform="rotate(-0.5 221.2 1012.2)">Time (s)</text>
<text class="sx" x="443.7" y="1011.2" font-size="14.6" textLength="61.8" lengthAdjust="spacing" transform="rotate(-0.5 443.7 1011.2)">Time (s)</text>
<path d="M135.7 709.5C137.8 705.5 137.9 705.5 142 697.5C146.1 689.5 144 693.5 148 685.5C152 677.5 150.67 680.17 154 673.5C157.33 666.83 155.67 670.17 158 665.5C160.33 660.83 159.33 663 161 659.5C162.67 656 161.67 657.07 163 655C164.33 652.93 163.67 653.8 165 653.3C166.33 652.8 165.67 652.6 167 653.5C168.33 654.4 167.67 653.17 169 656C170.33 658.83 169.77 657.67 171 662C172.23 666.33 171.6 664.67 172.7 669C173.8 673.33 173.2 671.5 174.3 675C175.4 678.5 174.77 676.83 176 679.5C177.23 682.17 176.67 680.83 178 683C179.33 685.17 178.33 684.1 180 686C181.67 687.9 181 686.87 183 688.7C185 690.53 183.67 689.57 186 691.5C188.33 693.43 187.33 692.6 190 694.5C192.67 696.4 191.5 695.47 194 697.2C196.5 698.93 195.5 698.53 197.5 699.7C199.5 700.87 198.5 700.6 200 700.7C201.5 700.8 200.67 701.4 202 700C203.33 698.6 202.57 699.33 204 696.5C205.43 693.67 204.63 694.23 206.3 691.5C207.97 688.77 207.1 689.63 209 688.3C210.9 686.97 210.17 687.43 212 687.5C213.83 687.57 212.83 687.17 214.5 688.5C216.17 689.83 215.33 689.5 217 691.5C218.67 693.5 217.67 693 219.5 694.5C221.33 696 221 694.17 222.5 696C224 697.83 222.83 695.83 224 700C225.17 704.17 224.33 701.5 226 708.5C227.67 715.5 227 713.33 229 721C231 728.67 230 725.4 232 731.5C234 737.6 233.1 735.47 235 739.3C236.9 743.13 236.03 741.37 237.7 743C239.37 744.63 238.47 744.2 240 744.2C241.53 744.2 240.63 744.57 242.3 743C243.97 741.43 242.93 742.67 245 739.5C247.07 736.33 246.17 737.5 248.5 733.5C250.83 729.5 249.5 731.33 252 727.5C254.5 723.67 253.33 725.17 256 722C258.67 718.83 257.5 720.07 260 718C262.5 715.93 261.43 716.8 263.5 715.8C265.57 714.8 264.2 715.07 266.2 715C268.2 714.93 267.4 715.6 269.5 715.6C271.6 715.6 270.67 715.97 272.5 715C274.33 714.03 273.33 713.97 275 712.7C276.67 711.43 275.83 711.83 277.5 711.2C279.17 710.57 277.17 710.87 280 710.8C282.83 710.73 281.67 710.93 286 711C290.33 711.07 288.33 711.13 293 711C297.67 710.87 294.33 710.8 300 710.6C305.67 710.4 301.67 710.67 310 710.4C318.33 710.13 315 710.2 325 709.8C335 709.4 329.17 709.57 340 709.2C350.83 708.83 351.67 708.87 357.5 708.7" stroke-width="1.45" stroke-linejoin="round" stroke-linecap="round"/>
<path d="M360.2 667C361.13 667.57 361.07 667.37 363 668.7C364.93 670.03 363.83 669.17 366 671C368.17 672.83 367.17 671.87 369.5 674.2C371.83 676.53 370.67 675.17 373 678C375.33 680.83 374.17 679.37 376.5 682.7C378.83 686.03 377.83 684.57 380 688C382.17 691.43 381 689.5 383 693C385 696.5 384.17 694.83 386 698.5C387.83 702.17 386.83 700.17 388.5 704C390.17 707.83 389.5 706.67 391 710C392.5 713.33 391.67 711.9 393 714C394.33 716.1 393.5 714.9 395 716.3C396.5 717.7 395.83 717.13 397.5 718.2C399.17 719.27 397.5 718.57 400 719.5C402.5 720.43 401.67 720.17 405 721C408.33 721.83 406 721.33 410 722C414 722.67 412.43 722.4 417 723C421.57 723.6 420.03 723.93 423.7 723.8C427.37 723.67 424.67 723.47 428 722.6C431.33 721.73 430.7 721.5 433.7 721.2C436.7 720.9 434.9 721.37 437 721.7C439.1 722.03 438 721.9 440 722.2C442 722.5 441.23 722.57 443 722.6C444.77 722.63 444.07 723.33 445.3 722.3C446.53 721.27 445.7 721.77 446.7 719.5C447.7 717.23 447.2 717.9 448.3 715.5C449.4 713.1 448.6 714.8 450 712.3C451.4 709.8 450.83 710.33 452.5 708C454.17 705.67 453.33 706.9 455 705.3C456.67 703.7 455.83 704.53 457.5 703.2C459.17 701.87 458.33 702.83 460 701.3C461.67 699.77 460.83 700.7 462.5 698.6C464.17 696.5 463.33 697.7 465 695C466.67 692.3 465.83 693.5 467.5 690.5C469.17 687.5 468.33 688.73 470 686C471.67 683.27 470.83 684.73 472.5 682.3C474.17 679.87 473.33 680.93 475 678.7C476.67 676.47 475.83 677.5 477.5 675.6C479.17 673.7 478.17 674.77 480 673C481.83 671.23 481 671.73 483 670.3C485 668.87 484 669.47 486 668.7C488 667.93 487 668.07 489 668C491 667.93 490 668.27 492 668.5C494 668.73 493.33 668.97 495 668.7C496.67 668.43 495.67 668.43 497 667.7C498.33 666.97 497.17 667.23 499 666.5C500.83 665.77 498.83 665.9 502.5 665.5C506.17 665.1 504.17 665.3 510 665.3C515.83 665.3 510 665.53 520 665.5C530 665.47 526.67 665.37 540 665.2C553.33 665.03 545.77 665.2 560 665C574.23 664.8 575.13 664.73 582.7 664.6" stroke-width="1.45" stroke-linejoin="round" stroke-linecap="round"/>
<path d="M136.7 812.5C137.63 812.5 137.8 812.5 139.5 812.5C141.2 812.5 140.73 812.67 141.8 812.5C142.87 812.33 141.8 814.17 142.7 812C143.6 809.83 143.17 811 144.5 806C145.83 801 145.3 802.77 146.7 797C148.1 791.23 147.1 793.03 148.7 788.7C150.3 784.37 149.57 786.9 151.5 784C153.43 781.1 152.77 782.17 154.5 780C156.23 777.83 155.47 776.83 156.7 777.5C157.93 778.17 157.1 777.5 158.2 782C159.3 786.5 158.73 784.67 160 791C161.27 797.33 160.77 795.1 162 801C163.23 806.9 162.53 804.53 163.7 808.7C164.87 812.87 164.23 811.4 165.5 813.5C166.77 815.6 166.23 815 167.5 815C168.77 815 168.23 816.83 169.3 813.5C170.37 810.17 169.57 812.83 170.7 805C171.83 797.17 171.33 799.5 172.7 790C174.07 780.5 173.37 783.83 174.8 776.5C176.23 769.17 175.7 769.67 177 768C178.3 766.33 177.47 767.17 178.7 771.5C179.93 775.83 179.37 774.17 180.7 781C182.03 787.83 181.43 785.67 182.7 792C183.97 798.33 183.17 796.17 184.5 800C185.83 803.83 185.2 800.5 186.7 803.5C188.2 806.5 187.4 804.67 189 809C190.6 813.33 189.93 812.6 191.5 816.5C193.07 820.4 192.3 820.2 193.7 820.7C195.1 821.2 194.27 821.9 195.7 818C197.13 814.1 196.4 815.5 198 809C199.6 802.5 198.93 804 200.5 798.5C202.07 793 201.2 795.1 202.7 792.5C204.2 789.9 203.57 790.53 205 790.7C206.43 790.87 205.67 790.4 207 793C208.33 795.6 207.67 794.5 209 798.5C210.33 802.5 209.67 802 211 805C212.33 808 211.67 807.17 213 807.5C214.33 807.83 213.67 808.17 215 806C216.33 803.83 215.67 804.17 217 801C218.33 797.83 217.6 798.67 219 796.5C220.4 794.33 219.7 794.9 221.2 794.5C222.7 794.1 221.9 793.97 223.5 795.3C225.1 796.63 224.33 796.43 226 798.5C227.67 800.57 227.17 799.77 228.5 801.5C229.83 803.23 229.17 800.2 230 803.7C230.83 807.2 230.17 803.9 231 812C231.83 820.1 231.5 817.67 232.5 828C233.5 838.33 232.93 834 234 843C235.07 852 234.53 848.93 235.7 855C236.87 861.07 236.3 860.53 237.5 861.2C238.7 861.87 237.8 861.4 239.3 857C240.8 852.6 240.1 854 242 848C243.9 842 243 845.33 245 839C247 832.67 246 835.17 248 829C250 822.83 249.1 824.77 251 820.5C252.9 816.23 251.93 818.53 253.7 816.2C255.47 813.87 254.63 814.73 256.3 813.5C257.97 812.27 257.3 811.83 258.7 812.5C260.1 813.17 259.17 812.17 260.5 815.5C261.83 818.83 261.2 818.33 262.7 822.5C264.2 826.67 263.67 827.5 265 828C266.33 828.5 265.47 827.83 266.7 824C267.93 820.17 267.37 820.67 268.7 816.5C270.03 812.33 269.43 813.67 270.7 811.5C271.97 809.33 271.07 810.67 272.5 810C273.93 809.33 273.33 809.83 275 809.5C276.67 809.17 275.83 809.6 277.5 809C279.17 808.4 278.5 807.7 280 807.7C281.5 807.7 280.6 807.23 282 809C283.4 810.77 282.8 810.4 284.2 813C285.6 815.6 284.77 816.47 286.2 816.8C287.63 817.13 286.9 816.03 288.5 814C290.1 811.97 289.27 812.2 291 810.7C292.73 809.2 291.03 809.97 293.7 809.5C296.37 809.03 295.23 809.3 299 809.3C302.77 809.3 301.5 809.1 305 809.5C308.5 809.9 306.6 809.93 309.5 810.5C312.4 811.07 311.03 811.53 313.7 811.2C316.37 810.87 315 810.47 317.5 809.5C320 808.53 318.03 808.5 321.2 808.3C324.37 808.1 322.4 808.53 327 808.9C331.6 809.27 331 809.63 335 809.4C339 809.17 336.5 808.83 339 808.2C341.5 807.57 338.83 807.73 342.5 807.5C346.17 807.27 345 807.53 350 807.5C355 807.47 355 807.43 357.5 807.4" stroke-width="1.45" stroke-linejoin="round" stroke-linecap="round"/>
<path d="M382.5 870.5L384.5 852L386.5 833L388.5 814L390.3 797L391.5 787.5L392.3 785L394 783.5L396.5 781.5L398.5 780L400 779.5L402 780L404.5 782.3L408 786.3L412 790.7L415 794L417 795.5L420 795L423 794.3L425 793.8L427.5 794.5L430 796.3L433 798.8L436.2 800.7L439 801.3L442 801.8L445 802.5L448 804.2L452.5 807.5L455 810.5L457.5 814.5L460 818.3L463 819L470 819.5L475 819.6L478 820.2L481 821.3L484 823.2L487 825L489 825.8L493 826.5L496 827.2L500 828.8L506 831.2L512.5 833.8L530 841L550 849.3L565 855.6L581.7 862.5" stroke-width="1.45" stroke-linejoin="round" stroke-linecap="round"/>
<path d="M137 940.7L147 940.7L147.8 938L148.7 935.7L151 934.7L153.7 933.7L154.8 929L156.2 924.5L158.5 922.3L161.2 921.2L162 927L162.6 934L163.2 940L166 939.8L168.7 939.5L169.8 944L171 949L172 952.5L173.3 949L174.5 942L175.5 933L176.5 924L177.5 915L179 910.5L180.3 905L181.7 898.7L182.8 904.5L184 912L185 922.5L186.5 933L188 945L189.6 957L191.2 967.5L192.5 962.5L195 958.7L196 947L197 932L197.8 919L198.7 910L202 910L203.3 915L205 920L206.5 928L208.5 937L210 943L211.2 947.5L212.5 942L214 934L216.2 927.5L218.5 922.5L221.2 918.2L223.3 919L225 920L226.2 924L227.5 927L230 927.6L232.5 928.7L234 936L235 941.6L236.6 943.2L238.7 937.9L240.8 930.5L241.8 939L243.4 954.7L245.5 951.6L247.1 949L248.2 954.7L249.2 926.3L250 912.6L251.8 914.2L253.1 912.8L254.5 915.8L255.5 917.4L256.6 924.2L257.6 931.6L258.7 939L260.3 930.5L261.3 933.7L262.6 942.1L263.6 931.6L265 931L266.6 941L267.8 937.9L268.9 931.6L270 917.9L271.3 918.1L272.4 921.6L274.2 920L275.2 922.6L276 928.4L277.1 933.2L278.7 929.5L280 930L281.1 933.9L282.4 928.4L283.6 926.3L285.5 924.4L287.1 927.9L289.2 929.5L290.3 933.7L291.3 937.4L292.7 931L294.5 931.6L296 933.2L297.6 926.3L299.7 925.5L301.8 925.8L303.4 929.5L305 931.6L306.6 936.8L307.6 932.8L309.2 933.7L310.8 932.1L312 931L315 931.2L318 932.8L321.2 933.7L323.7 932.3L326.2 931.7L330 933.5L333.7 934.5L337 933.4L340 933L342.5 933.6L345 932.5L348 934.5L351.2 935.5L353 934L355 933.7L357 934.8L358.7 935" stroke-width="1.45" stroke-linejoin="round" stroke-linecap="round"/>
<path d="M361.3 943.2C363.2 943.17 362.87 943.17 367 943.1C371.13 943.03 370.53 943.7 373.7 943C376.87 942.3 374.4 943.67 376.5 941C378.6 938.33 378.17 939.33 380 935C381.83 930.67 380.67 933.33 382 928C383.33 922.67 382.77 923.83 384 919C385.23 914.17 384.7 915.93 385.7 913.5C386.7 911.07 385.73 911.93 387 911.7C388.27 911.47 387.67 911.7 389.5 912.8C391.33 913.9 390.67 912.93 392.5 915C394.33 917.07 393.33 915.5 395 919C396.67 922.5 395.83 921.83 397.5 925.5C399.17 929.17 398.6 930.17 400 930C401.4 929.83 400.53 931 401.7 925C402.87 919 402.23 921 403.5 912C404.77 903 404.1 906.17 405.5 898C406.9 889.83 406.2 892.67 407.7 887.5C409.2 882.33 408.57 882.67 410 882.5C411.43 882.33 410.67 881.5 412 887C413.33 892.5 412.5 890 414 899C415.5 908 415 905.67 416.5 914C418 922.33 417.33 919.33 418.5 924C419.67 928.67 418.93 928.17 420 928C421.07 927.83 420.47 928.5 421.7 923.5C422.93 918.5 422.27 919.5 423.7 913C425.13 906.5 424.33 908.33 426 904C427.67 899.67 426.87 900.5 428.7 900C430.53 899.5 429.57 899.33 431.5 902.5C433.43 905.67 432.67 905.67 434.5 909.5C436.33 913.33 435.6 912.17 437 914C438.4 915.83 437.2 915.17 438.7 915C440.2 914.83 439.57 915.67 441.5 913.5C443.43 911.33 442.5 911.27 444.5 908.5C446.5 905.73 445.67 906.53 447.5 905.2C449.33 903.87 448 904.47 450 904.5C452 904.53 451 903.47 453.5 905.3C456 907.13 455.33 906.43 457.5 910C459.67 913.57 458.33 911 460 916C461.67 921 460.83 918.67 462.5 925C464.17 931.33 463.5 927.67 465 935C466.5 942.33 465.67 939.33 467 947C468.33 954.67 467.83 952 469 958C470.17 964 469.5 961 470.5 965C471.5 969 470.93 969.67 472 970C473.07 970.33 472.37 969.33 473.7 966C475.03 962.67 474.57 963.33 476 960C477.43 956.67 476.83 957.67 478 956C479.17 954.33 478.17 954.33 479.5 955C480.83 955.67 480.17 955.5 482 958C483.83 960.5 483.17 959.83 485 962.5C486.83 965.17 485.67 963.17 487.5 966C489.33 968.83 488.67 968 490.5 971C492.33 974 491.33 974.83 493 975C494.67 975.17 493.83 974.17 495.5 971.5C497.17 968.83 496.5 969 498 967C499.5 965 498.33 965.5 500 965.5C501.67 965.5 501 965.93 503 967C505 968.07 503.83 968.87 506 968.7C508.17 968.53 507.33 967.73 509.5 966.5C511.67 965.27 510.17 964.73 512.5 965C514.83 965.27 513.67 965.97 516.5 967.3C519.33 968.63 518.33 969.43 521 969C523.67 968.57 521.93 968.33 524.5 966C527.07 963.67 526.37 962.83 528.7 962C531.03 961.17 529.4 962.5 531.5 963.5C533.6 964.5 532.17 965.07 535 965C537.83 964.93 536.67 964.3 540 963.3C543.33 962.3 541.67 963 545 962C548.33 961 546.67 961.4 550 960.3C553.33 959.2 552.1 959.27 555 958.7C557.9 958.13 556.2 958.5 558.7 958.6C561.2 958.7 559.57 959.43 562.5 959C565.43 958.57 564.17 958.47 567.5 957.3C570.83 956.13 569.17 956.37 572.5 955.5C575.83 954.63 574.17 955.3 577.5 954.7C580.83 954.1 580.83 954.03 582.5 953.7" stroke-width="1.45" stroke-linejoin="round" stroke-linecap="round"/>
<path d="M147 940.5C150.9 940.07 149.53 940.23 158.7 939.2C167.87 938.17 165.07 938.8 174.5 937.4C183.93 936 179.17 936.67 187 935C194.83 933.33 189 934.3 198 932.4C207 930.5 203.4 931.2 214 929.3C224.6 927.4 219.27 927.97 229.8 926.7C240.33 925.43 237.2 925.67 245.6 925.5C254 925.33 248.53 925.63 255 926.2C261.47 926.77 258 926.33 265 927.2C272 928.07 272.33 928.27 276 928.8" stroke-width="1.25" stroke-dasharray="3 2 1.2 2" stroke-linejoin="round" stroke-linecap="round"/>
<path d="M297.6 927L299.7 926.2L301.8 926.5L303.4 930.2L305 932.3L306.6 937.5L307.6 933.5L309.2 934.4L310.8 932.8L312 931.7L315 931.9L318 933.5L321.2 934.4L323.7 933L326.2 932.4L330 934.2L333.7 935.2L337 934.1L340 933.7L342.5 934.3L345 933.2L348 935.2L351.2 936.2L353 934.7L355 934.4L357 935.5L358.7 935.7" stroke-width="1.0" stroke-linejoin="round"/>
<path d="M362 943.2L490 942.6" stroke-width="1.3" stroke-dasharray="4.2 3.6"/>
<path d="M546 942.3L584.5 942" stroke-width="1.3" stroke-dasharray="4.2 3.6"/>
</g>
<g transform="rotate(-0.27 41 550)">
<text class="cap" x="41.2" y="550" font-size="15.8" textLength="30" lengthAdjust="spacing">FIG.</text>
<text class="cap" x="82" y="550" font-size="15.8" textLength="12.2" lengthAdjust="spacing">6.</text>
<text class="cap" x="112.5" y="550" font-size="15.8" textLength="74.5" lengthAdjust="spacing">Hydraulic</text>
<text class="cap" x="196.4" y="550" font-size="15.8" textLength="86.2" lengthAdjust="spacing">Grade-Line</text>
<text class="cap" x="292.2" y="550" font-size="15.8" textLength="80.4" lengthAdjust="spacing">Elevations</text>
<text class="cap" x="381.9" y="550" font-size="15.8" textLength="28" lengthAdjust="spacing">and</text>
<text class="cap" x="419.6" y="550" font-size="15.8" textLength="62.5" lengthAdjust="spacing">External</text>
<text class="cap" x="492" y="550" font-size="15.8" textLength="45.4" lengthAdjust="spacing">Flows</text>
<text class="cap" x="546.6" y="550" font-size="15.8" textLength="14" lengthAdjust="spacing">at</text>
<text class="cap" x="569" y="550" font-size="15.8" textLength="66" lengthAdjust="spacing">Selected</text>
<text class="cap" x="644.6" y="550" font-size="15.8" textLength="41.6" lengthAdjust="spacing">Loca-</text>
<text class="cap" x="41.2" y="570.6" font-size="15.8" textLength="101.8" lengthAdjust="spacing">tions: Case 1</text>
</g>
<g transform="rotate(-0.27 50 1048)">
<text class="cap" x="50" y="1048.8" font-size="15.8" textLength="30" lengthAdjust="spacing">FIG.</text>
<text class="cap" x="90" y="1048.8" font-size="15.8" textLength="12.4" lengthAdjust="spacing">7.</text>
<text class="cap" x="121.5" y="1048.8" font-size="15.8" textLength="73.5" lengthAdjust="spacing">Hydraulic</text>
<text class="cap" x="205" y="1048.8" font-size="15.8" textLength="85" lengthAdjust="spacing">Grade-Line</text>
<text class="cap" x="300" y="1048.8" font-size="15.8" textLength="80" lengthAdjust="spacing">Elevations</text>
<text class="cap" x="389" y="1048.8" font-size="15.8" textLength="28.5" lengthAdjust="spacing">and</text>
<text class="cap" x="426.5" y="1048.8" font-size="15.8" textLength="63.5" lengthAdjust="spacing">External</text>
<text class="cap" x="499" y="1048.8" font-size="15.8" textLength="46" lengthAdjust="spacing">Flows</text>
<text class="cap" x="554" y="1048.8" font-size="15.8" textLength="13.5" lengthAdjust="spacing">at</text>
<text class="cap" x="576.5" y="1048.8" font-size="15.8" textLength="66" lengthAdjust="spacing">Selected</text>
<text class="cap" x="652.5" y="1048.8" font-size="15.8" textLength="41.5" lengthAdjust="spacing">Loca-</text>
<text class="cap" x="50" y="1070.2" font-size="15.8" textLength="102.5" lengthAdjust="spacing">tions: Case 2</text>
</g>
<text class="pg" x="354.6" y="1187.5" font-size="15.4" textLength="34" lengthAdjust="spacing">1027</text>
<path d="M625 34L627.6 31.4" stroke-width="0.8" style="stroke:#cfcfcf"/>
<path d="M621.4 49.6L622.6 49.2" stroke-width="0.9" style="stroke:#d4d4d4"/>
</g>
</svg></body></html>
